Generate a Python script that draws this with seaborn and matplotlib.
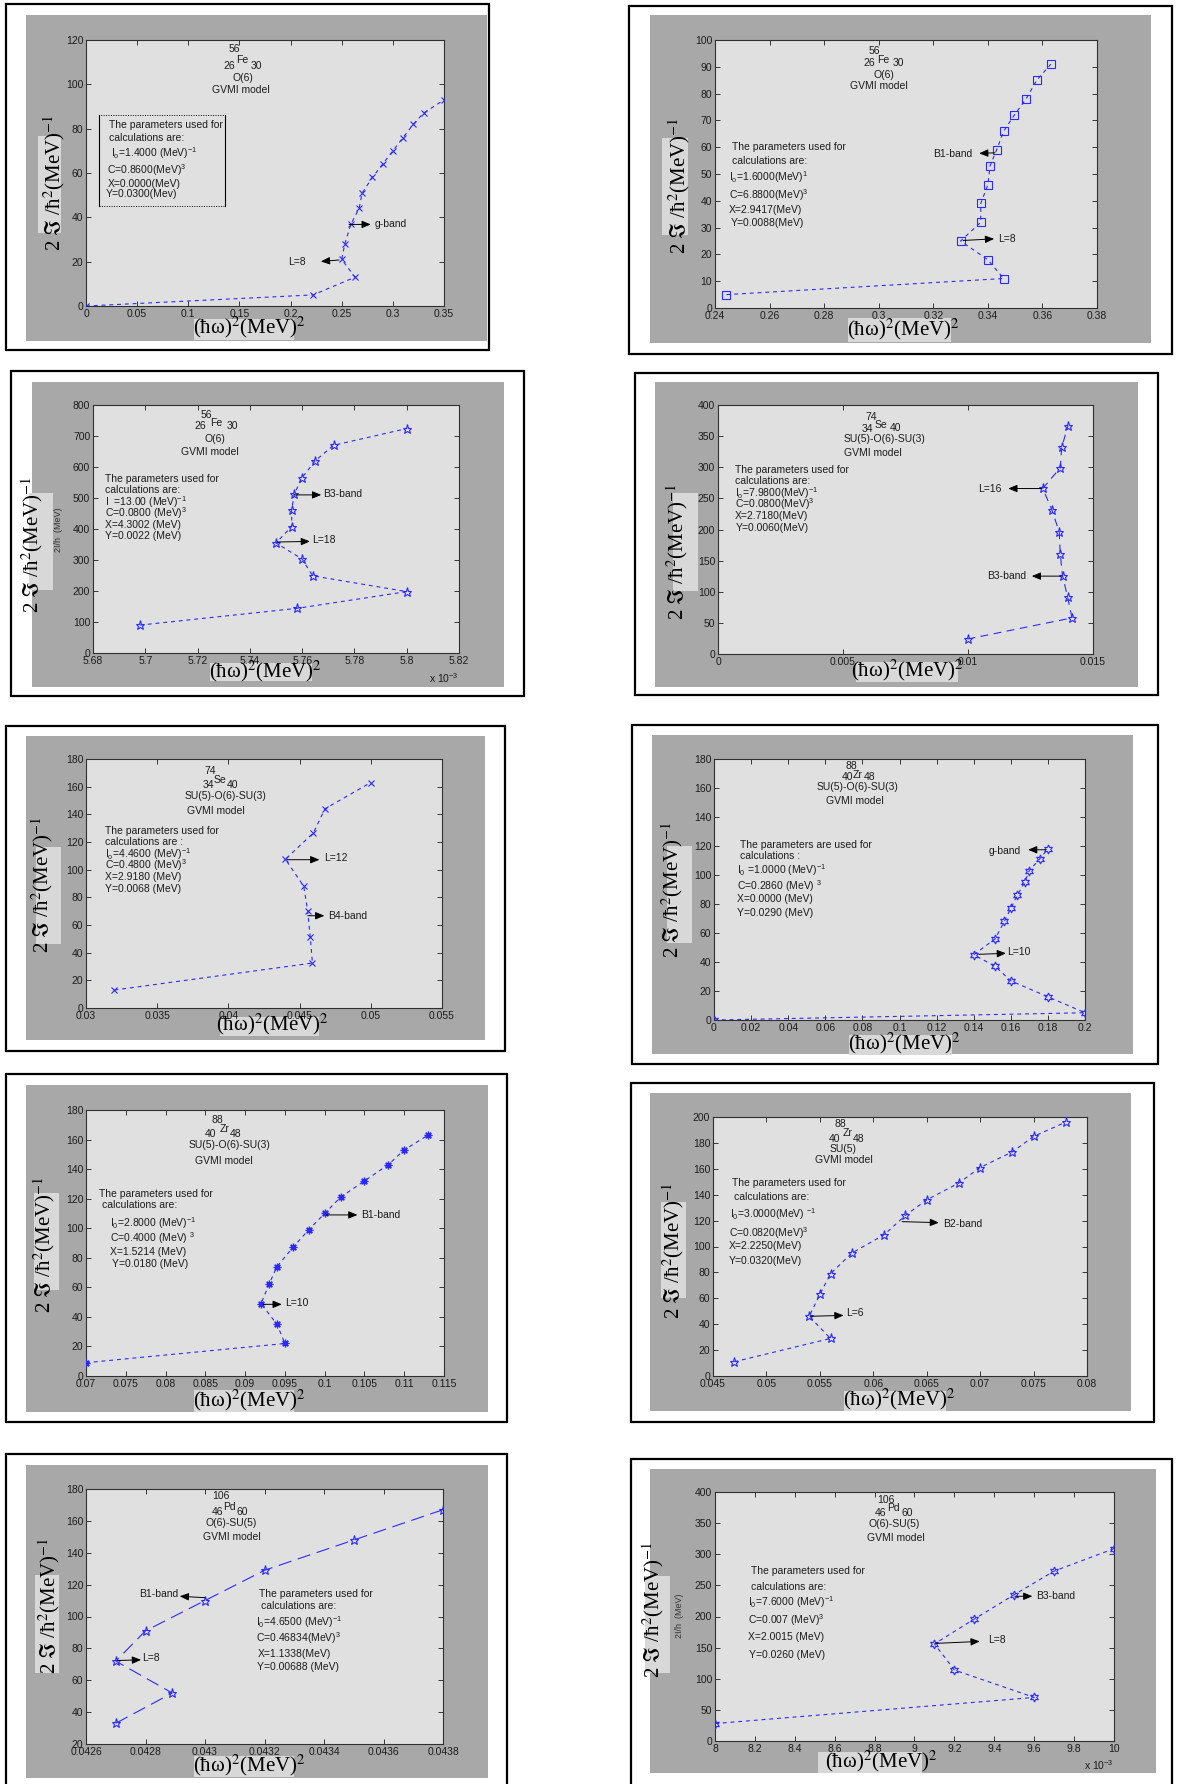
import numpy as np
import matplotlib
matplotlib.use("Agg")
import matplotlib.pyplot as plt
from matplotlib.patches import Rectangle
from matplotlib.lines import Line2D
from matplotlib.ticker import FuncFormatter
import seaborn as sns

# ---------------------------------------------------------------
# (hbar*omega)^2 [MeV^2]  versus  2*Im/hbar^2 [MeV^-1]
# ---------------------------------------------------------------
fe56_g_x = [0, 0.222, 0.263, 0.250, 0.253, 0.259, 0.267, 0.270, 0.280,
            0.290, 0.300, 0.310, 0.320, 0.330, 0.350]
fe56_g_y = [0, 5, 13, 21, 28, 37, 44, 51, 58, 64, 70, 76, 82, 87, 93]

fe56_b1_x = [0.2442, 0.3458, 0.3400, 0.3300, 0.3374, 0.3374, 0.3400, 0.3408,
             0.3432, 0.3458, 0.3497, 0.3540, 0.3579, 0.3631]
fe56_b1_y = [5, 11, 18, 25, 32, 39, 46, 53, 59, 66, 72, 78, 85, 91]

fe56_b3_x = [5.698e-3, 5.758e-3, 5.800e-3, 5.764e-3, 5.760e-3, 5.750e-3,
             5.756e-3, 5.756e-3, 5.757e-3, 5.760e-3, 5.765e-3, 5.772e-3, 5.800e-3]
fe56_b3_y = [90, 144, 198, 249, 303, 355, 408, 462, 513, 566, 620, 670, 724]

se74_b3_x = [0.00998, 0.01416, 0.01398, 0.01378, 0.01369, 0.01365, 0.01335,
             0.01299, 0.01369, 0.01375, 0.01400]
se74_b3_y = [24, 58, 92, 126, 161, 196, 232, 266, 299, 332, 367]

se74_b4_x = [0.0320, 0.0459, 0.04575, 0.04557, 0.04529, 0.0440, 0.04596,
             0.04678, 0.0500]
se74_b4_y = [13, 32.5, 51, 70, 88, 107.5, 126.5, 144, 163]

zr88_g_x = [0, 0.200, 0.180, 0.160, 0.1516, 0.140, 0.1516, 0.1565, 0.160,
            0.1635, 0.1675, 0.170, 0.1755, 0.180]
zr88_g_y = [0, 5, 16, 27, 37, 45, 56, 68, 77, 86, 95, 103, 111, 118]

zr88_b1_x = [0.070, 0.095, 0.094, 0.092, 0.093, 0.094, 0.096, 0.098, 0.100,
             0.102, 0.105, 0.108, 0.110, 0.113]
zr88_b1_y = [9, 22, 35, 49, 62, 74, 87, 99, 110, 121, 132, 143, 153, 163]

zr88_b2_x = [0.047, 0.056, 0.054, 0.055, 0.056, 0.058, 0.061, 0.063, 0.065,
             0.068, 0.070, 0.073, 0.075, 0.078]
zr88_b2_y = [11, 29, 46, 63, 79, 95, 109, 124, 136, 149, 161, 173, 185, 196]

pd106_b1_x = [0.04270, 0.04289, 0.04270, 0.04280, 0.04300, 0.04320,
              0.04350, 0.04380]
pd106_b1_y = [33, 52, 72, 91, 110, 129, 148, 167]

pd106_b3_x = [8.0e-3, 9.6e-3, 9.2e-3, 9.1e-3, 9.3e-3, 9.5e-3, 9.7e-3, 10.0e-3]
pd106_b3_y = [28, 70, 114, 156, 196, 235, 273, 309]

# ---------------------------------------------------------------
W, H = 1178, 1784
plt.rcParams.update({
    "font.family": ["Liberation Sans", "DejaVu Sans"],
    "mathtext.fontset": "custom",
    "mathtext.rm": "Liberation Sans",
    "mathtext.it": "Liberation Sans:italic",
    "mathtext.bf": "Liberation Sans:bold",
})

fig = plt.figure(figsize=(W / 100, H / 100), dpi=100)
fig.patch.set_facecolor("white")

SERIF = ["Liberation Serif", "DejaVu Serif", "DejaVu Sans"]
BLUE = "#2a2aff"
GRAY_OUT = "#a8a8a8"
GRAY_AX = "#e0e0e0"
PATCH = "#d8d8d8"
SMALL = 7.5
TXT = "#1c1c1c"
YLABEL = "2 $\\Im$ /ħ$^{2}$(MeV)$^{-1}$"
XLABEL = "(ħω)$^{2}$(MeV)$^{2}$"


def fig_box(x0, y0, x1, y1):
    return (x0 / W, 1 - y1 / H, (x1 - x0) / W, (y1 - y0) / H)


def draw_panel(p):
    b = fig_box(*p["border"])
    fig.add_artist(Rectangle(b[:2], b[2], b[3], transform=fig.transFigure,
                             fill=False, ec="black", lw=1.6, zorder=-1))
    g = fig_box(*p["gray"])
    fig.add_artist(Rectangle(g[:2], g[2], g[3], transform=fig.transFigure,
                             fc=GRAY_OUT, ec="none", zorder=-2))
    ax = fig.add_axes(fig_box(*p["axes"]))
    ax.set_facecolor(GRAY_AX)

    sns.lineplot(x=p["x"], y=p["y"], sort=False, estimator=None, ax=ax,
                 color=BLUE, linewidth=0.8, linestyle=(0, p["dash"]),
                 marker=p["marker"], markersize=p["ms"],
                 markerfacecolor="none", markeredgecolor=BLUE,
                 markeredgewidth=p.get("mew", 0.8), zorder=3)

    ax.set_xlim(*p["xlim"])
    ax.set_ylim(*p["ylim"])
    ax.set_xticks(np.round(np.arange(p["xlim"][0], p["xlim"][1] + p["xstep"] / 2,
                                     p["xstep"]), 10))
    ax.set_yticks(np.arange(p["ylim"][0], p["ylim"][1] + 1, p["ystep"]))
    scale = p.get("scale", 1)
    ax.xaxis.set_major_formatter(FuncFormatter(lambda v, _: f"{v * scale:g}"))
    ax.yaxis.set_major_formatter(FuncFormatter(lambda v, _: f"{v:g}"))
    ax.tick_params(direction="in", length=3.5, width=0.6, top=True, right=True,
                   labelsize=SMALL, pad=2, colors=TXT)
    for s in ax.spines.values():
        s.set_linewidth(0.8)
        s.set_color("#303030")
    ax.set_xlabel("")
    ax.set_ylabel("")

    # nucleus, symmetry and model captions
    for t, fx, fy in p["nucleus"]:
        ax.text(fx, fy, t, transform=ax.transAxes, ha="center", va="center",
                fontsize=SMALL, color=TXT)
    # parameter list
    for t, fx, fy in p["params"]:
        ax.text(fx, fy, t, transform=ax.transAxes, ha="left", va="center",
                fontsize=SMALL, color=TXT)
    # band / spin markers with arrows
    for t, pos, tail, head in p["bands"]:
        ax.text(pos[0], pos[1], t, ha="left", va="center", fontsize=SMALL,
                color=TXT, zorder=5)
        ax.annotate("", xy=head, xytext=tail,
                    arrowprops=dict(arrowstyle="-|>,head_length=0.6,head_width=0.25",
                                    color="black", lw=0.7, shrinkA=0, shrinkB=0,
                                    mutation_scale=9), zorder=5)

    if "box" in p:
        x0, y0, x1, y1 = p["box"]
        ax.add_patch(Rectangle((x0, y0), x1 - x0, y1 - y0, transform=ax.transAxes,
                               fill=False, ec="black", lw=0.7, ls=(0, (1, 1.5))))
        for xv in (x0, x1):
            ax.add_line(Line2D([xv, xv], [y0, y1], transform=ax.transAxes,
                               color="black", lw=0.8))

    # axis titles on lighter patches
    x0, y0, x1, y1 = p["ypatch"]
    ax.add_patch(Rectangle((x0, y0), x1 - x0, y1 - y0, transform=ax.transAxes,
                           fc=PATCH, ec="none", clip_on=False, zorder=0.5))
    ax.text(p["ylab"][0], p["ylab"][1], YLABEL, transform=ax.transAxes,
            rotation=90, ha="center", va="center", fontsize=15, family=SERIF,
            math_fontfamily="stix", color="black", clip_on=False, zorder=4)
    x0, y0, x1, y1 = p["xpatch"]
    ax.add_patch(Rectangle((x0, y0), x1 - x0, y1 - y0, transform=ax.transAxes,
                           fc=PATCH, ec="none", clip_on=False, zorder=0.5))
    ax.text(p["xlab"][0], p["xlab"][1], XLABEL, transform=ax.transAxes,
            ha="center", va="center", fontsize=15, family=SERIF,
            math_fontfamily="stix", color="black", clip_on=False, zorder=4)

    if "offset" in p:
        ax.text(p["offset"][0], p["offset"][1], "x 10$^{-3}$", transform=ax.transAxes,
                ha="center", va="center", fontsize=SMALL, color=TXT, clip_on=False)
    if "ghost" in p:
        ax.text(p["ghost"][0], p["ghost"][1], "2I/h  (MeV)", transform=ax.transAxes,
                rotation=90, ha="center", va="center", fontsize=6.5, color="#333333",
                clip_on=False, zorder=4)
    return ax


panels = [
    dict(border=(6, 4, 489, 350), gray=(26, 15, 487, 341), axes=(86, 40, 444, 306),
         x=fe56_g_x, y=fe56_g_y, marker="x", ms=4, dash=(3.5, 3.5),
         xlim=(0, 0.35), xstep=0.05, ylim=(0, 120), ystep=20,
         nucleus=[("56", 0.414, 0.965), ("26", 0.400, 0.902), ("Fe", 0.437, 0.924),
                  ("30", 0.476, 0.902), ("O(6)", 0.439, 0.858),
                  ("GVMI model", 0.433, 0.812)],
         params=[("The parameters used for", 0.063, 0.680),
                 ("calculations are:", 0.065, 0.630),
                 ("I$_\\mathrm{o}$=1.4000 (MeV)$^{-1}$", 0.070, 0.576),
                 ("C=0.8600(MeV)$^{3}$", 0.060, 0.511),
                 ("X=0.0000(MeV)", 0.060, 0.460),
                 ("Y=0.0300(Mev)", 0.056, 0.420)],
         bands=[("L=8", (0.198, 20), (0.2475, 20.75), (0.2296, 20.1)),
                ("g-band", (0.2817, 37.1), (0.2572, 36.8), (0.2784, 36.8))],
         box=(0.037, 0.376, 0.388, 0.717),
         ylab=(-0.090, 0.464), ypatch=(-0.135, 0.276, -0.070, 0.639),
         xlab=(0.456, -0.081), xpatch=(0.302, -0.129, 0.581, -0.050)),
    dict(border=(629, 6, 1172, 354), gray=(650, 15, 1151, 343), axes=(715, 40, 1097, 308),
         x=fe56_b1_x, y=fe56_b1_y, marker="s", ms=5.5, dash=(3.5, 3.5),
         xlim=(0.24, 0.38), xstep=0.02, ylim=(0, 100), ystep=10,
         nucleus=[("56", 0.417, 0.959), ("26", 0.404, 0.913), ("Fe", 0.441, 0.924),
                  ("30", 0.481, 0.913), ("O(6)", 0.443, 0.869),
                  ("GVMI model", 0.429, 0.827)],
         params=[("The parameters used for", 0.044, 0.600),
                 ("calculations are:", 0.044, 0.548),
                 ("I$_\\mathrm{o}$=1.6000(MeV)$^{1}$", 0.037, 0.489),
                 ("C=6.8800(MeV)$^{3}$", 0.037, 0.423),
                 ("X=2.9417(MeV)", 0.037, 0.367),
                 ("Y=0.0088(MeV)", 0.042, 0.316)],
         bands=[("B1-band", (0.3199, 57.5), (0.3426, 57.9), (0.3368, 57.7)),
                ("L=8", (0.3436, 25.8), (0.3309, 25.2), (0.3423, 25.8))],
         ylab=(-0.093, 0.455), ypatch=(-0.139, 0.274, -0.070, 0.635),
         xlab=(0.494, -0.078), xpatch=(0.348, -0.125, 0.617, -0.037)),
    dict(border=(11, 371, 524, 696), gray=(32, 382, 504, 687), axes=(93, 405, 459, 653),
         x=fe56_b3_x, y=fe56_b3_y, marker="*", ms=6.5, dash=(3.5, 3.5),
         xlim=(5.68e-3, 5.82e-3), xstep=0.02e-3, ylim=(0, 800), ystep=100, scale=1e3,
         nucleus=[("56", 0.311, 0.960), ("26", 0.292, 0.917), ("Fe", 0.338, 0.926),
                  ("30", 0.381, 0.917), ("O(6)", 0.332, 0.863),
                  ("GVMI model", 0.320, 0.811)],
         params=[("The parameters used for", 0.033, 0.703),
                 ("calculations are:", 0.033, 0.656),
                 ("I  =13.00 (MeV)$^{-1}$", 0.033, 0.609),
                 ("C=0.0800 (MeV)$^{3}$", 0.033, 0.564),
                 ("X=4.3002 (MeV)", 0.033, 0.515),
                 ("Y=0.0022 (MeV)", 0.033, 0.470)],
         bands=[("B3-band", (5.7681e-3, 513), (5.7569e-3, 510), (5.7673e-3, 510)),
                ("L=18", (5.7639e-3, 365), (5.7505e-3, 358), (5.763e-3, 360))],
         ylab=(-0.166, 0.436), ypatch=(-0.175, 0.255, -0.108, 0.644),
         xlab=(0.472, -0.074), xpatch=(0.321, -0.114, 0.599, -0.040),
         offset=(0.959, -0.101), ghost=(-0.093, 0.497)),
    dict(border=(635, 373, 1158, 695), gray=(655, 382, 1138, 687), axes=(718, 405, 1093, 654),
         x=se74_b3_x, y=se74_b3_y, marker="*", ms=6.5, dash=(7, 5),
         xlim=(0, 0.015), xstep=0.005, ylim=(0, 400), ystep=50,
         nucleus=[("74", 0.408, 0.953), ("34", 0.399, 0.902), ("Se", 0.435, 0.919),
                  ("40", 0.473, 0.906), ("SU(5)-O(6)-SU(3)", 0.444, 0.862),
                  ("GVMI model", 0.413, 0.808)],
         params=[("The parameters used for", 0.046, 0.738),
                 ("calculations are:", 0.046, 0.693),
                 ("I$_\\mathrm{o}$=7.9800(MeV)$^{-1}$", 0.046, 0.648),
                 ("C=0.0800(MeV)$^{3}$", 0.046, 0.600),
                 ("X=2.7180(MeV)", 0.046, 0.553),
                 ("Y=0.0060(MeV)", 0.046, 0.507)],
         bands=[("L=16", (0.01041, 265.8), (0.01295, 265.8), (0.01161, 265.8)),
                ("B3-band", (0.01077, 125.1), (0.01375, 125.1), (0.01255, 125.1))],
         ylab=(-0.110, 0.409), ypatch=(-0.121, 0.255, -0.054, 0.648),
         xlab=(0.506, -0.067), xpatch=(0.368, -0.111, 0.640, -0.034)),
    dict(border=(6, 726, 505, 1051), gray=(26, 736, 485, 1040), axes=(86, 759, 442, 1008),
         x=se74_b4_x, y=se74_b4_y, marker="x", ms=4, dash=(3.5, 3.5),
         xlim=(0.03, 0.055), xstep=0.005, ylim=(0, 180), ystep=20,
         nucleus=[("74", 0.349, 0.953), ("34", 0.343, 0.894), ("Se", 0.377, 0.917),
                  ("40", 0.412, 0.894), ("SU(5)-O(6)-SU(3)", 0.391, 0.850),
                  ("GVMI model", 0.365, 0.790)],
         params=[("The parameters used for", 0.054, 0.712),
                 ("calculations are :", 0.054, 0.667),
                 ("I$_\\mathrm{o}$=4.4600 (MeV)$^{-1}$", 0.054, 0.620),
                 ("C=0.4800 (MeV)$^{3}$", 0.054, 0.572),
                 ("X=2.9180 (MeV)", 0.054, 0.526),
                 ("Y=0.0068 (MeV)", 0.054, 0.479)],
         bands=[("L=12", (0.04674, 108.2), (0.04412, 107.2), (0.04639, 107.2)),
                ("B4-band", (0.04697, 66.7), (0.04557, 66.7), (0.04674, 66.7))],
         ylab=(-0.122, 0.495), ypatch=(-0.140, 0.258, -0.070, 0.647),
         xlab=(0.524, -0.067), xpatch=(0.375, -0.114, 0.655, -0.036)),
    dict(border=(632, 725, 1158, 1064), gray=(652, 735, 1133, 1054), axes=(714, 759, 1085, 1020),
         x=zr88_g_x, y=zr88_g_y, marker=(6, 1, 0), ms=6.5, dash=(3.5, 3.5),
         xlim=(0, 0.2), xstep=0.02, ylim=(0, 180), ystep=20,
         nucleus=[("88", 0.370, 0.974), ("40", 0.360, 0.930), ("Zr", 0.388, 0.940),
                  ("48", 0.420, 0.930), ("SU(5)-O(6)-SU(3)", 0.388, 0.891),
                  ("GVMI model", 0.379, 0.838)],
         params=[("The parameters are used for", 0.070, 0.671),
                 ("calculations :", 0.070, 0.627),
                 ("I$_\\mathrm{0}$ =1.0000 (MeV)$^{-1}$", 0.063, 0.573),
                 ("C=0.2860 (MeV) $^{3}$", 0.061, 0.514),
                 ("X=0.0000 (MeV)", 0.061, 0.463),
                 ("Y=0.0290 (MeV)", 0.061, 0.409)],
         bands=[("g-band", (0.1483, 116.7), (0.1788, 117.4), (0.1693, 117.4)),
                ("L=10", (0.158, 47.2), (0.1428, 45.3), (0.1574, 46.0))],
         ylab=(-0.114, 0.499), ypatch=(-0.126, 0.294, -0.059, 0.665),
         xlab=(0.513, -0.090), xpatch=(0.363, -0.134, 0.641, -0.058)),
    dict(border=(6, 1074, 507, 1422), gray=(26, 1085, 488, 1412), axes=(86, 1110, 444, 1376),
         x=zr88_b1_x, y=zr88_b1_y, marker=(8, 2, 0), ms=5.5, mew=0.9, dash=(3.5, 3.5),
         xlim=(0.07, 0.115), xstep=0.005, ylim=(0, 180), ystep=20,
         nucleus=[("88", 0.366, 0.962), ("40", 0.349, 0.910), ("Zr", 0.388, 0.927),
                  ("48", 0.419, 0.910), ("SU(5)-O(6)-SU(3)", 0.400, 0.868),
                  ("GVMI model", 0.384, 0.810)],
         params=[("The parameters used for", 0.037, 0.683),
                 ("calculations are:", 0.044, 0.643),
                 ("I$_\\mathrm{0}$=2.8000 (MeV)$^{-1}$", 0.068, 0.574),
                 ("C=0.4000 (MeV) $^{3}$", 0.068, 0.517),
                 ("X=1.5214 (MeV)", 0.068, 0.467),
                 ("Y=0.0180 (MeV)", 0.073, 0.420)],
         bands=[("B1-band", (0.10453, 109), (0.10022, 109), (0.10412, 109)),
                ("L=10", (0.09503, 49.2), (0.09227, 48.5), (0.09461, 48.5))],
         ylab=(-0.116, 0.492), ypatch=(-0.144, 0.323, -0.076, 0.687),
         xlab=(0.456, -0.090), xpatch=(0.302, -0.134, 0.581, -0.053)),
    dict(border=(631, 1083, 1154, 1422), gray=(650, 1093, 1131, 1411), axes=(713, 1117, 1087, 1376),
         x=zr88_b2_x, y=zr88_b2_y, marker="*", ms=6.5, dash=(3.5, 3.5),
         xlim=(0.045, 0.08), xstep=0.005, ylim=(0, 200), ystep=20,
         nucleus=[("88", 0.340, 0.972), ("40", 0.325, 0.914), ("Zr", 0.360, 0.937),
                  ("48", 0.388, 0.914), ("SU(5)", 0.349, 0.875),
                  ("GVMI model", 0.349, 0.833)],
         params=[("The parameters used for", 0.050, 0.744),
                 ("calculations are:", 0.056, 0.691),
                 ("I$_\\mathrm{0}$=3.0000(MeV) $^{-1}$", 0.045, 0.627),
                 ("C=0.0820(MeV)$^{3}$", 0.042, 0.553),
                 ("X=2.2250(MeV)", 0.042, 0.501),
                 ("Y=0.0320(MeV)", 0.042, 0.444)],
         bands=[("B2-band", (0.06656, 117.1), (0.0627, 119.2), (0.06615, 118.4)),
                ("L=6", (0.05747, 48.4), (0.05409, 46.1), (0.05722, 46.8))],
         ylab=(-0.107, 0.483), ypatch=(-0.139, 0.300, -0.073, 0.673),
         xlab=(0.497, -0.090), xpatch=(0.349, -0.135, 0.622, -0.058)),
    dict(border=(6, 1454, 507, 1800), gray=(26, 1465, 488, 1778), axes=(86, 1489, 443, 1744),
         x=pd106_b1_x, y=pd106_b1_y, marker="*", ms=6.5, dash=(12, 6),
         xlim=(0.0426, 0.0438), xstep=0.0002, ylim=(20, 180), ystep=20,
         nucleus=[("106", 0.377, 0.972), ("46", 0.368, 0.911), ("Pd", 0.403, 0.931),
                  ("60", 0.438, 0.911), ("O(6)-SU(5)", 0.408, 0.868),
                  ("GVMI model", 0.408, 0.813)],
         params=[("The parameters used for", 0.485, 0.590),
                 ("calculations are:", 0.491, 0.541),
                 ("I$_\\mathrm{0}$=4.6500 (MeV)$^{-1}$", 0.477, 0.478),
                 ("C=0.46834(MeV)$^{3}$", 0.477, 0.415),
                 ("X=1.1338(MeV)", 0.480, 0.354),
                 ("Y=0.00688 (MeV)", 0.480, 0.301)],
         bands=[("B1-band", (0.042777, 113.9), (0.0430, 111.8), (0.042915, 112.7)),
                ("L=8", (0.04279, 73.9), (0.042706, 72.4), (0.042785, 72.8))],
         ylab=(-0.103, 0.544), ypatch=(-0.144, 0.278, -0.076, 0.662),
         xlab=(0.457, -0.085), xpatch=(0.303, -0.128, 0.582, -0.048)),
    dict(border=(631, 1459, 1172, 1800), gray=(650, 1469, 1156, 1773), axes=(715, 1492, 1114, 1741),
         x=pd106_b3_x, y=pd106_b3_y, marker=(6, 1, 0), ms=6.5, dash=(3.5, 3.5),
         xlim=(8e-3, 10e-3), xstep=0.2e-3, ylim=(0, 400), ystep=50, scale=1e3,
         nucleus=[("106", 0.429, 0.966), ("46", 0.416, 0.917), ("Pd", 0.448, 0.936),
                  ("60", 0.483, 0.917), ("O(6)-SU(5)", 0.450, 0.870),
                  ("GVMI model", 0.454, 0.816)],
         params=[("The parameters used for", 0.091, 0.681),
                 ("calculations are:", 0.091, 0.620),
                 ("I$_\\mathrm{0}$=7.6000 (MeV)$^{-1}$", 0.083, 0.557),
                 ("C=0.007 (MeV)$^{3}$", 0.083, 0.486),
                 ("X=2.0015 (MeV)", 0.083, 0.416),
                 ("Y=0.0260 (MeV)", 0.085, 0.345)],
         bands=[("B3-band", (9.608e-3, 232.5), (9.503e-3, 232.5), (9.591e-3, 232.5)),
                ("L=8", (9.367e-3, 162.1), (9.107e-3, 156.8), (9.327e-3, 160))],
         ylab=(-0.154, 0.528), ypatch=(-0.176, 0.275, -0.112, 0.664),
         xlab=(0.417, -0.081), xpatch=(0.259, -0.128, 0.518, -0.044),
         offset=(0.962, -0.098), ghost=(-0.088, 0.503)),
]

for p in panels:
    draw_panel(p)

fig.savefig("out.png", dpi=100, facecolor="white")
